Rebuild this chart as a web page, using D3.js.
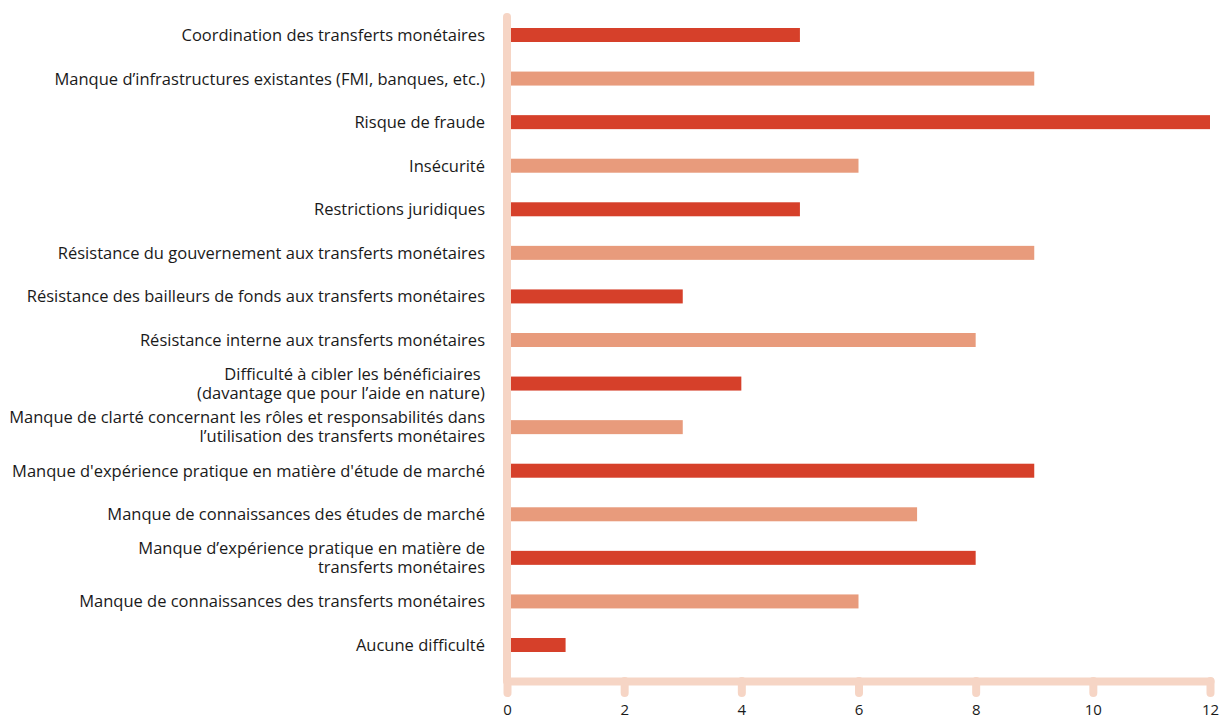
<!DOCTYPE html>
<html>
<head>
<meta charset="utf-8">
<script src="https://cdn.jsdelivr.net/npm/d3@7"></script>
<style>
  html, body { margin: 0; padding: 0; background: #ffffff; }
  svg text { font-family: "Open Sans", "Noto Sans", sans-serif; fill: #1a1a1a; }
</style>
</head>
<body>
<svg id="chart" width="1219" height="720"></svg>
<script>
// Difficultés rencontrées dans l'utilisation des transferts monétaires
const categories = [
  ["Coordination des transferts monétaires"],
  ["Manque d\u2019infrastructures existantes (FMI, banques, etc.)"],
  ["Risque de fraude"],
  ["Insécurité"],
  ["Restrictions juridiques"],
  ["Résistance du gouvernement aux transferts monétaires"],
  ["Résistance des bailleurs de fonds aux transferts monétaires"],
  ["Résistance interne aux transferts monétaires"],
  ["Difficulté à cibler les bénéficiaires\u00a0", "(davantage que pour l\u2019aide en nature)"],
  ["Manque de clarté concernant les rôles et responsabilités dans", "l\u2019utilisation des transferts monétaires"],
  ["Manque d'expérience pratique en matière d'étude de marché"],
  ["Manque de connaissances des études de marché"],
  ["Manque d\u2019expérience pratique en matière de", "transferts monétaires"],
  ["Manque de connaissances des transferts monétaires"],
  ["Aucune difficulté"]
];
const values = [5, 9, 12, 6, 5, 9, 3, 8, 4, 3, 9, 7, 8, 6, 1];
const xTicks = [0, 2, 4, 6, 8, 10, 12];

const colorDark = "#d6402a";
const colorLight = "#e89b7c";
const axisColor = "#f6d5c5";

const svg = d3.select("#chart");

const x = d3.scaleLinear().domain([0, 12]).range([507, 1210]);
const y = d3.scalePoint().domain(d3.range(categories.length)).range([35, 645]);
const barH = 14;

// Bars
svg.append("g")
  .selectAll("rect")
  .data(values)
  .join("rect")
  .attr("x", x(0))
  .attr("y", (d, i) => y(i) - barH / 2)
  .attr("width", d => x(d) - x(0))
  .attr("height", barH)
  .attr("fill", (d, i) => i % 2 === 0 ? colorDark : colorLight);

// Category labels (right-aligned, one or two lines)
const labels = svg.append("g")
  .selectAll("text")
  .data(categories)
  .join("text")
  .attr("text-anchor", "end")
  .attr("font-size", 16.5)
  .attr("x", 485)
  .attr("y", (d, i) => y(i));

labels.selectAll("tspan")
  .data(d => d.map((line, k) => ({ line, k, n: d.length })))
  .join("tspan")
  .attr("x", 485)
  .attr("dy", d => d.k === 0 ? (d.n === 1 ? "6px" : "-4px") : "19px")
  .text(d => d.line);

// Vertical baseline
svg.append("line")
  .attr("x1", x(0)).attr("x2", x(0))
  .attr("y1", 17).attr("y2", 681)
  .attr("stroke", axisColor)
  .attr("stroke-width", 8)
  .attr("stroke-linecap", "round");

// Bottom axis
const xAxis = svg.append("g")
  .attr("transform", "translate(0,681)")
  .call(d3.axisBottom(x).tickValues(xTicks).tickSize(12).tickSizeOuter(0).tickPadding(0));

xAxis.select(".domain")
  .attr("stroke", axisColor)
  .attr("stroke-width", 8)
  .attr("stroke-linecap", "round");
xAxis.selectAll(".tick line")
  .attr("stroke", axisColor)
  .attr("stroke-width", 8)
  .attr("stroke-linecap", "round");
xAxis.selectAll(".tick text")
  .attr("font-family", "'Open Sans', 'Noto Sans', sans-serif")
  .attr("font-size", 15)
  .attr("fill", "#1a1a1a")
  .attr("y", 34)
  .attr("dy", 0);
</script>
</body>
</html>
